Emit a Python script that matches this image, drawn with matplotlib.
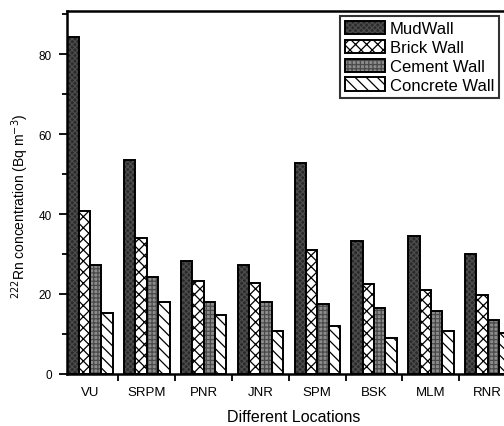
import numpy as np
import matplotlib
matplotlib.use('Agg')
import matplotlib.pyplot as plt
from matplotlib.patches import Patch

plt.rcParams['font.family'] = ['Liberation Sans', 'DejaVu Sans']
plt.rcParams['hatch.linewidth'] = 0.9

locations = ['VU', 'SRPM', 'PNR', 'JNR', 'SPM', 'BSK', 'MLM', 'RNR']
mud_wall = [84.2, 53.5, 28.3, 27.2, 52.7, 33.2, 34.4, 29.9]
brick_wall = [40.8, 33.9, 23.2, 22.7, 31.0, 22.5, 21.0, 19.7]
cement_wall = [27.2, 24.3, 18.1, 18.1, 17.5, 16.4, 15.8, 13.6]
concrete_wall = [15.2, 18.1, 14.7, 10.7, 11.9, 9.1, 10.7, 10.3]

series = [
  ('MudWall', mud_wall, '#2a2a2a', '#4c4c4c', 'xxxxxx'),
  ('Brick Wall', brick_wall, 'white', 'black', 'xxx'),
  ('Cement Wall', cement_wall, '#8c8c8c', '#4a4a4a', '++++'),
  ('Concrete Wall', concrete_wall, 'white', 'black', '\\\\\\'),
]

fig = plt.figure(figsize=(5.04, 4.27), dpi=100)
ax = fig.add_axes([0.133, 0.122, 0.90, 0.850])

x = np.arange(1, len(locations) + 1)
w = 0.2
handles = []
for i, (name, vals, fc, hc, hatch) in enumerate(series):
  pos = x - 0.3 + i * w
  # hatch layer first, then a plain black outline over it
  ax.bar(pos, vals, w, color=fc, edgecolor=hc, hatch=hatch, linewidth=0)
  ax.bar(pos, vals, w, fill=False, edgecolor='black', linewidth=1.4)
  h1 = Patch(facecolor=fc, edgecolor=hc, hatch=hatch, linewidth=0)
  h2 = Patch(fill=False, edgecolor='black', linewidth=1.4)
  handles.append((h1, h2))

ax.set_xlim(0.595, 8.58)
ax.set_ylim(0, 90.8)

ax.set_xticks(x)
ax.set_xticklabels(locations, fontsize=9.5)
ax.set_xticks(x[:-1] + 0.5, minor=True)
ax.tick_params(axis='x', which='major', length=0, pad=9)
ax.tick_params(axis='x', which='minor', length=5, width=1.3, direction='out')

ax.set_yticks([0, 20, 40, 60, 80])
ax.set_yticks([10, 30, 50, 70, 90], minor=True)
ax.tick_params(axis='y', which='major', length=6, width=1.3, labelsize=8.5,
               pad=5, direction='out')
ax.tick_params(axis='y', which='minor', length=3.5, width=1.3, direction='out')

for s in ax.spines.values():
  s.set_linewidth(1.8)

ax.set_xlabel('Different Locations', fontsize=11.5)
ax.xaxis.set_label_coords(0.5, -0.098)
ax.set_ylabel('$^{222}$Rn concentration (Bq m$^{-3}$)', fontsize=10)
ax.yaxis.set_label_coords(-0.08, 0.466)

leg = ax.legend(handles, [s[0] for s in series], loc='upper left',
                bbox_to_anchor=(0.601, 0.986), fontsize=12, frameon=True,
                fancybox=False, edgecolor='black', handlelength=2.4,
                handleheight=0.85, handletextpad=0.3, labelspacing=0.2,
                borderpad=0.3, borderaxespad=0)
leg.get_frame().set_linewidth(1.5)

fig.savefig('out.png', dpi=100)
